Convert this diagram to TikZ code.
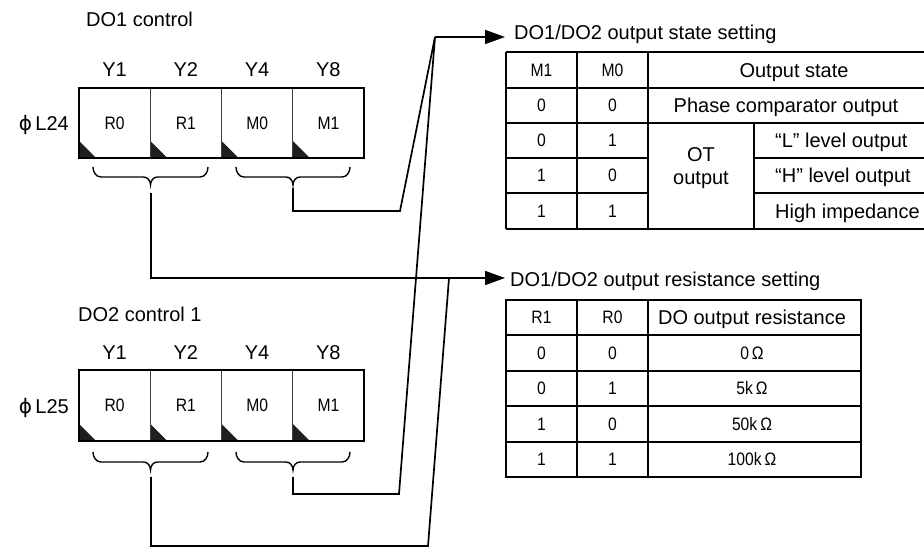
\documentclass[tikz,border=0pt]{standalone}
\usepackage{fontspec}
\setmainfont{Liberation Sans}
\newfontfamily\symfont{DejaVu Sans}
\newfontfamily\narrowfont[FakeStretch=0.87]{Liberation Sans}
\usetikzlibrary{arrows.meta}
\tikzset{
  big/.style={font=\fontsize{20}{24}\selectfont, inner sep=0pt, text height=14.3pt, text depth=0pt},
  bigml/.style={font=\fontsize{20}{23}\selectfont, inner sep=0pt, align=center},
  small/.style={font=\narrowfont\fontsize{18}{21}\selectfont, inner sep=0pt, text height=12.9pt, text depth=0pt},
  frame/.style={line width=1.8pt},
  divider/.style={line width=0.9pt, black!75},
  conn/.style={line width=1.7pt},
  arr/.style={conn, -{Triangle[length=20pt,width=14pt]}},
  grid/.style={line width=1.7pt},
  brace/.style={line width=1.4pt},
  tri/.style={fill=black!88}
}
\newcommand\regbrace[3]{%
  \pgfmathsetmacro\bxa{#1+8}%
  \pgfmathsetmacro\bxb{(#1+#2)/2-7}%
  \pgfmathsetmacro\bxc{(#1+#2)/2}%
  \pgfmathsetmacro\bxd{(#1+#2)/2+7}%
  \pgfmathsetmacro\bxe{#2-8}%
  \pgfmathsetmacro\bya{#3-10}%
  \pgfmathsetmacro\byb{#3-18}%
  \draw[brace] (#1,#3) to[out=-90,in=180] (\bxa,\bya) -- (\bxb,\bya)
    to[out=0,in=90] (\bxc,\byb) to[out=90,in=180] (\bxd,\bya)
    -- (\bxe,\bya) to[out=0,in=-90] (#2,#3);}
\begin{document}
\begin{tikzpicture}[x=1pt,y=1pt]
\clip (0,0) rectangle (924,548);

% ---------- register 1 (phi L24) ----------
\node[big, anchor=west] (title1) at (86,529) {DO1 control};
\node[big, anchor=east] (phi1) at (69,425) {{\symfont ϕ}\,L24};
\foreach \i/\t/\y in {0/R0/Y1,1/R1/Y2,2/M0/Y4,3/M1/Y8} {
  \node[small, minimum width=71.25pt, minimum height=70pt] (A\i) at ({79+71.25*\i+35.625}, 424.5) {\t};
  \node[big] (AY\i) at ({79+71.25*\i+35.625}, 479) {\y};
  \fill[tri] ({79+71.25*\i},390) -- ++(0,17) -- ++(17,-17) -- cycle;
}
\foreach \i in {1,2,3} \draw[divider] ({79+71.25*\i},390) -- ({79+71.25*\i},460);
\draw[frame] (79,390) rectangle (364,460);
\regbrace{93}{208}{381}
\regbrace{236}{350}{381}

% ---------- register 2 (phi L25) ----------
\node[big, anchor=west] (title2) at (78,234) {DO2 control 1};
\node[big, anchor=east] (phi2) at (69,142) {{\symfont ϕ}\,L25};
\foreach \i/\t/\y in {0/R0/Y1,1/R1/Y2,2/M0/Y4,3/M1/Y8} {
  \node[small, minimum width=71.25pt, minimum height=71pt] (B\i) at ({79+71.25*\i+35.625}, 142.5) {\t};
  \node[big] (BY\i) at ({79+71.25*\i+35.625}, 195.5) {\y};
  \fill[tri] ({79+71.25*\i},107) -- ++(0,17) -- ++(17,-17) -- cycle;
}
\foreach \i in {1,2,3} \draw[divider] ({79+71.25*\i},107) -- ({79+71.25*\i},178);
\draw[frame] (79,107) rectangle (364,178);
\regbrace{93}{208}{96}
\regbrace{236}{350}{96}

% ---------- connector points ----------
\coordinate (sA1) at (151,355);
\coordinate (sB1) at (293,360);
\coordinate (sA2) at (151,71);
\coordinate (sB2) at (293,71);
\coordinate (kM1) at (400,337);
\coordinate (kM2) at (399,54);
\coordinate (kR2) at (428,2);
\coordinate (top) at (435,511);
\coordinate (join) at (449,270);
\coordinate (tipM) at (505,511);
\coordinate (tipR) at (505,270);

\draw[conn] (sB1) |- (kM1) -- (top);
\draw[conn] (sB2) |- (kM2) -- (top);
\draw[arr] (top) -- (tipM);
\draw[arr] (sA1) |- (tipR);
\draw[conn] (sA2) |- (kR2) -- (join);

% ---------- table 1: output state ----------
\node[big, anchor=base west] (ttl1) at (514,508) {DO1/DO2 output state setting};
\draw[grid] (506,496) -- (940,496) (506,460) -- (940,460) (506,425) -- (940,425)
  (506,390) -- (648,390) (754,390) -- (940,390)
  (506,355) -- (648,355) (754,355) -- (940,355)
  (506,319) -- (940,319);
\draw[grid] (506,496) -- (506,319) (577,496) -- (577,319) (648,496) -- (648,319) (754,425) -- (754,319);
\node[small] (h1) at (541.5,478) {M1};
\node[small] (h2) at (612.5,478) {M0};
\node[big] (h3) at (794,478) {Output state};
\foreach \a/\b/\r in {0/0/442.5,0/1/407.5,1/0/372.5,1/1/337} {
  \node[small] at (541.5,\r) {\a};
  \node[small] at (612.5,\r) {\b};
}
\node[big] (pc) at (786,442.5) {Phase comparator output};
\node[bigml] (ot) at (701,379.5) {OT\\output};
\node[big, anchor=west] (lv) at (775,407.5) {“L” level output};
\node[big, anchor=west] (hv) at (775,372.5) {“H” level output};
\node[big, anchor=west] (hz) at (775,337) {High impedance};

% ---------- table 2: output resistance ----------
\node[big, anchor=base west] (ttl2) at (510,261) {DO1/DO2 output resistance setting};
\draw[grid] (506,248) rectangle (861,71);
\foreach \r in {213,177,142,106} \draw[grid] (506,\r) -- (861,\r);
\draw[grid] (577,248) -- (577,71) (648,248) -- (648,71);
\node[small] (g1) at (541.5,230.5) {R1};
\node[small] (g2) at (612.5,230.5) {R0};
\node[big] (g3) at (752,230.5) {DO output resistance};
\foreach \a/\b/\v/\r in {0/0/0/195,0/1/5k/159.5,1/0/50k/124,1/1/100k/88.5} {
  \node[small] at (541.5,\r) {\a};
  \node[small] at (612.5,\r) {\b};
  \node[small] at (752,\r) {\v\,Ω};
}
\end{tikzpicture}
\end{document}
